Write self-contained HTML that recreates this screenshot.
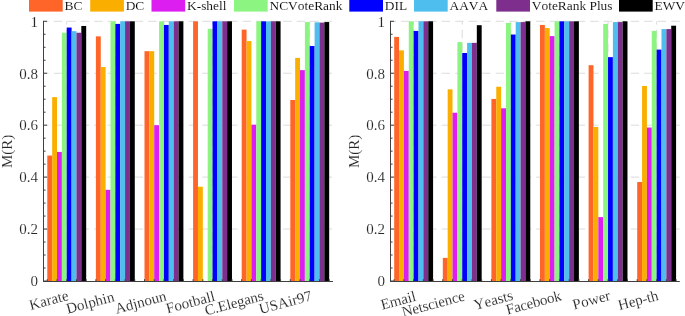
<!DOCTYPE html>
<html><head><meta charset="utf-8"><style>
html,body{margin:0;padding:0;background:#fff;width:685px;height:316px;overflow:hidden}
svg{display:block;will-change:transform}
text{font-family:"Liberation Serif",serif;fill:#262626;font-kerning:none;font-variant-ligatures:none;stroke:#fff;stroke-width:0.12px}
.tk{font-size:15px}
.lg{font-size:13.4px;fill:#000}
.lb{font-size:15px}
.xl{font-size:15px}
</style></head><body>
<svg width="685" height="316" viewBox="0 0 685 316">
<rect width="685" height="316" fill="#fff"/>
<rect x="29.00" y="0" width="33.7" height="11.6" fill="#FF6428"/>
<text x="64.50" y="9.6" class="lg">BC</text>
<rect x="90.20" y="0" width="33.7" height="11.6" fill="#FAAF00"/>
<text x="125.70" y="9.6" class="lg">DC</text>
<rect x="151.50" y="0" width="33.7" height="11.6" fill="#DC1EF0"/>
<text x="187.00" y="9.6" class="lg">K-shell</text>
<rect x="234.00" y="0" width="33.7" height="11.6" fill="#8CF582"/>
<text x="269.50" y="9.6" class="lg">NCVoteRank</text>
<rect x="349.30" y="0" width="33.7" height="11.6" fill="#0000FF"/>
<text x="384.80" y="9.6" class="lg">DIL</text>
<rect x="414.00" y="0" width="33.7" height="11.6" fill="#4DBEEE"/>
<text x="449.50" y="9.6" class="lg">AAVA</text>
<rect x="496.30" y="0" width="33.7" height="11.6" fill="#7E2F8E"/>
<text x="531.80" y="9.6" class="lg">VoteRank Plus</text>
<rect x="619.00" y="0" width="33.7" height="11.6" fill="#000000"/>
<text x="654.50" y="9.6" class="lg">EWV</text>
<line x1="44.00" y1="229.06" x2="333.00" y2="229.06" stroke="#dcdcdc" stroke-width="1" stroke-dasharray="8.5 5" stroke-dashoffset="3.85"/>
<line x1="44.00" y1="177.12" x2="333.00" y2="177.12" stroke="#dcdcdc" stroke-width="1" stroke-dasharray="8.5 5" stroke-dashoffset="3.85"/>
<line x1="44.00" y1="125.18" x2="333.00" y2="125.18" stroke="#dcdcdc" stroke-width="1" stroke-dasharray="8.5 5" stroke-dashoffset="3.85"/>
<line x1="44.00" y1="73.24" x2="333.00" y2="73.24" stroke="#dcdcdc" stroke-width="1" stroke-dasharray="8.5 5" stroke-dashoffset="3.85"/>
<line x1="44.00" y1="21.30" x2="333.00" y2="21.30" stroke="#dcdcdc" stroke-width="1" stroke-dasharray="8.5 5" stroke-dashoffset="3.85"/>
<line x1="66.74" y1="281.20" x2="66.74" y2="21.30" stroke="#dcdcdc" stroke-width="1" stroke-dasharray="8.5 5"/>
<line x1="115.34" y1="281.20" x2="115.34" y2="21.30" stroke="#dcdcdc" stroke-width="1" stroke-dasharray="8.5 5"/>
<line x1="163.94" y1="281.20" x2="163.94" y2="21.30" stroke="#dcdcdc" stroke-width="1" stroke-dasharray="8.5 5"/>
<line x1="212.54" y1="281.20" x2="212.54" y2="21.30" stroke="#dcdcdc" stroke-width="1" stroke-dasharray="8.5 5"/>
<line x1="261.14" y1="281.20" x2="261.14" y2="21.30" stroke="#dcdcdc" stroke-width="1" stroke-dasharray="8.5 5"/>
<line x1="309.74" y1="281.20" x2="309.74" y2="21.30" stroke="#dcdcdc" stroke-width="1" stroke-dasharray="8.5 5"/>
<rect x="47.30" y="155.56" width="4.86" height="125.44" fill="#FF6428"/>
<rect x="52.16" y="97.13" width="4.86" height="183.87" fill="#FAAF00"/>
<rect x="57.02" y="151.93" width="4.86" height="129.07" fill="#DC1EF0"/>
<rect x="61.88" y="32.73" width="4.86" height="248.27" fill="#8CF582"/>
<rect x="66.74" y="27.53" width="4.86" height="253.47" fill="#0000FF"/>
<rect x="71.60" y="31.17" width="4.86" height="249.83" fill="#4DBEEE"/>
<rect x="76.46" y="32.73" width="4.86" height="248.27" fill="#7E2F8E"/>
<rect x="81.32" y="25.97" width="4.86" height="255.03" fill="#000000"/>
<rect x="95.90" y="36.36" width="4.86" height="244.64" fill="#FF6428"/>
<rect x="100.76" y="67.01" width="4.86" height="213.99" fill="#FAAF00"/>
<rect x="105.62" y="189.85" width="4.86" height="91.15" fill="#DC1EF0"/>
<rect x="110.48" y="21.30" width="4.86" height="259.70" fill="#8CF582"/>
<rect x="115.34" y="23.90" width="4.86" height="257.10" fill="#0000FF"/>
<rect x="120.20" y="21.30" width="4.86" height="259.70" fill="#4DBEEE"/>
<rect x="125.06" y="21.30" width="4.86" height="259.70" fill="#7E2F8E"/>
<rect x="129.92" y="21.30" width="4.86" height="259.70" fill="#000000"/>
<rect x="144.50" y="51.17" width="4.86" height="229.83" fill="#FF6428"/>
<rect x="149.36" y="51.17" width="4.86" height="229.83" fill="#FAAF00"/>
<rect x="154.22" y="125.18" width="4.86" height="155.82" fill="#DC1EF0"/>
<rect x="159.08" y="21.30" width="4.86" height="259.70" fill="#8CF582"/>
<rect x="163.94" y="24.94" width="4.86" height="256.06" fill="#0000FF"/>
<rect x="168.80" y="21.30" width="4.86" height="259.70" fill="#4DBEEE"/>
<rect x="173.66" y="21.30" width="4.86" height="259.70" fill="#7E2F8E"/>
<rect x="178.52" y="21.30" width="4.86" height="259.70" fill="#000000"/>
<rect x="193.10" y="21.30" width="4.86" height="259.70" fill="#FF6428"/>
<rect x="197.96" y="186.73" width="4.86" height="94.27" fill="#FAAF00"/>
<rect x="207.68" y="28.83" width="4.86" height="252.17" fill="#8CF582"/>
<rect x="212.54" y="21.30" width="4.86" height="259.70" fill="#0000FF"/>
<rect x="217.40" y="21.30" width="4.86" height="259.70" fill="#4DBEEE"/>
<rect x="222.26" y="21.30" width="4.86" height="259.70" fill="#7E2F8E"/>
<rect x="227.12" y="21.30" width="4.86" height="259.70" fill="#000000"/>
<rect x="241.70" y="29.61" width="4.86" height="251.39" fill="#FF6428"/>
<rect x="246.56" y="41.04" width="4.86" height="239.96" fill="#FAAF00"/>
<rect x="251.42" y="124.66" width="4.86" height="156.34" fill="#DC1EF0"/>
<rect x="256.28" y="21.30" width="4.86" height="259.70" fill="#8CF582"/>
<rect x="261.14" y="21.30" width="4.86" height="259.70" fill="#0000FF"/>
<rect x="266.00" y="21.30" width="4.86" height="259.70" fill="#4DBEEE"/>
<rect x="270.86" y="21.30" width="4.86" height="259.70" fill="#7E2F8E"/>
<rect x="275.72" y="21.30" width="4.86" height="259.70" fill="#000000"/>
<rect x="290.30" y="99.99" width="4.86" height="181.01" fill="#FF6428"/>
<rect x="295.16" y="57.92" width="4.86" height="223.08" fill="#FAAF00"/>
<rect x="300.02" y="70.12" width="4.86" height="210.88" fill="#DC1EF0"/>
<rect x="304.88" y="22.08" width="4.86" height="258.92" fill="#8CF582"/>
<rect x="309.74" y="45.97" width="4.86" height="235.03" fill="#0000FF"/>
<rect x="314.60" y="22.34" width="4.86" height="258.66" fill="#4DBEEE"/>
<rect x="319.46" y="22.60" width="4.86" height="258.40" fill="#7E2F8E"/>
<rect x="324.32" y="22.08" width="4.86" height="258.92" fill="#000000"/>
<line x1="43.50" y1="20.80" x2="43.50" y2="282.00" stroke="#404040" stroke-width="1"/>
<line x1="43.00" y1="281.50" x2="333.00" y2="281.50" stroke="#404040" stroke-width="1"/>
<line x1="43.50" y1="281.00" x2="47.10" y2="281.00" stroke="#404040" stroke-width="1"/>
<line x1="43.50" y1="268.01" x2="45.60" y2="268.01" stroke="#404040" stroke-width="1"/>
<line x1="43.50" y1="255.03" x2="45.60" y2="255.03" stroke="#404040" stroke-width="1"/>
<line x1="43.50" y1="242.04" x2="45.60" y2="242.04" stroke="#404040" stroke-width="1"/>
<line x1="43.50" y1="229.06" x2="47.10" y2="229.06" stroke="#404040" stroke-width="1"/>
<line x1="43.50" y1="216.07" x2="45.60" y2="216.07" stroke="#404040" stroke-width="1"/>
<line x1="43.50" y1="203.09" x2="45.60" y2="203.09" stroke="#404040" stroke-width="1"/>
<line x1="43.50" y1="190.10" x2="45.60" y2="190.10" stroke="#404040" stroke-width="1"/>
<line x1="43.50" y1="177.12" x2="47.10" y2="177.12" stroke="#404040" stroke-width="1"/>
<line x1="43.50" y1="164.13" x2="45.60" y2="164.13" stroke="#404040" stroke-width="1"/>
<line x1="43.50" y1="151.15" x2="45.60" y2="151.15" stroke="#404040" stroke-width="1"/>
<line x1="43.50" y1="138.16" x2="45.60" y2="138.16" stroke="#404040" stroke-width="1"/>
<line x1="43.50" y1="125.18" x2="47.10" y2="125.18" stroke="#404040" stroke-width="1"/>
<line x1="43.50" y1="112.19" x2="45.60" y2="112.19" stroke="#404040" stroke-width="1"/>
<line x1="43.50" y1="99.21" x2="45.60" y2="99.21" stroke="#404040" stroke-width="1"/>
<line x1="43.50" y1="86.23" x2="45.60" y2="86.23" stroke="#404040" stroke-width="1"/>
<line x1="43.50" y1="73.24" x2="47.10" y2="73.24" stroke="#404040" stroke-width="1"/>
<line x1="43.50" y1="60.25" x2="45.60" y2="60.25" stroke="#404040" stroke-width="1"/>
<line x1="43.50" y1="47.27" x2="45.60" y2="47.27" stroke="#404040" stroke-width="1"/>
<line x1="43.50" y1="34.28" x2="45.60" y2="34.28" stroke="#404040" stroke-width="1"/>
<line x1="43.50" y1="21.30" x2="47.10" y2="21.30" stroke="#404040" stroke-width="1"/>
<line x1="47.30" y1="281.50" x2="47.30" y2="279.20" stroke="#404040" stroke-width="1"/>
<line x1="57.02" y1="281.50" x2="57.02" y2="279.20" stroke="#404040" stroke-width="1"/>
<line x1="66.74" y1="281.50" x2="66.74" y2="279.20" stroke="#404040" stroke-width="1"/>
<line x1="76.46" y1="281.50" x2="76.46" y2="279.20" stroke="#404040" stroke-width="1"/>
<line x1="86.18" y1="281.50" x2="86.18" y2="279.20" stroke="#404040" stroke-width="1"/>
<line x1="95.90" y1="281.50" x2="95.90" y2="279.20" stroke="#404040" stroke-width="1"/>
<line x1="105.62" y1="281.50" x2="105.62" y2="279.20" stroke="#404040" stroke-width="1"/>
<line x1="115.34" y1="281.50" x2="115.34" y2="279.20" stroke="#404040" stroke-width="1"/>
<line x1="125.06" y1="281.50" x2="125.06" y2="279.20" stroke="#404040" stroke-width="1"/>
<line x1="134.78" y1="281.50" x2="134.78" y2="279.20" stroke="#404040" stroke-width="1"/>
<line x1="144.50" y1="281.50" x2="144.50" y2="279.20" stroke="#404040" stroke-width="1"/>
<line x1="154.22" y1="281.50" x2="154.22" y2="279.20" stroke="#404040" stroke-width="1"/>
<line x1="163.94" y1="281.50" x2="163.94" y2="279.20" stroke="#404040" stroke-width="1"/>
<line x1="173.66" y1="281.50" x2="173.66" y2="279.20" stroke="#404040" stroke-width="1"/>
<line x1="183.38" y1="281.50" x2="183.38" y2="279.20" stroke="#404040" stroke-width="1"/>
<line x1="193.10" y1="281.50" x2="193.10" y2="279.20" stroke="#404040" stroke-width="1"/>
<line x1="202.82" y1="281.50" x2="202.82" y2="279.20" stroke="#404040" stroke-width="1"/>
<line x1="212.54" y1="281.50" x2="212.54" y2="279.20" stroke="#404040" stroke-width="1"/>
<line x1="222.26" y1="281.50" x2="222.26" y2="279.20" stroke="#404040" stroke-width="1"/>
<line x1="231.98" y1="281.50" x2="231.98" y2="279.20" stroke="#404040" stroke-width="1"/>
<line x1="241.70" y1="281.50" x2="241.70" y2="279.20" stroke="#404040" stroke-width="1"/>
<line x1="251.42" y1="281.50" x2="251.42" y2="279.20" stroke="#404040" stroke-width="1"/>
<line x1="261.14" y1="281.50" x2="261.14" y2="279.20" stroke="#404040" stroke-width="1"/>
<line x1="270.86" y1="281.50" x2="270.86" y2="279.20" stroke="#404040" stroke-width="1"/>
<line x1="280.58" y1="281.50" x2="280.58" y2="279.20" stroke="#404040" stroke-width="1"/>
<line x1="290.30" y1="281.50" x2="290.30" y2="279.20" stroke="#404040" stroke-width="1"/>
<line x1="300.02" y1="281.50" x2="300.02" y2="279.20" stroke="#404040" stroke-width="1"/>
<line x1="309.74" y1="281.50" x2="309.74" y2="279.20" stroke="#404040" stroke-width="1"/>
<line x1="319.46" y1="281.50" x2="319.46" y2="279.20" stroke="#404040" stroke-width="1"/>
<line x1="329.18" y1="281.50" x2="329.18" y2="279.20" stroke="#404040" stroke-width="1"/>
<text x="37.90" y="286.30" text-anchor="end" class="tk">0</text>
<text x="37.90" y="234.36" text-anchor="end" class="tk">0.2</text>
<text x="37.90" y="182.42" text-anchor="end" class="tk">0.4</text>
<text x="37.90" y="130.48" text-anchor="end" class="tk">0.6</text>
<text x="37.90" y="78.54" text-anchor="end" class="tk">0.8</text>
<text x="37.90" y="26.60" text-anchor="end" class="tk">1</text>
<text transform="translate(12.20,151.3) rotate(-90)" text-anchor="middle" class="lb">M(R)</text>
<text transform="translate(69.34,299.80) rotate(-15)" text-anchor="end" class="xl">Karate</text>
<text transform="translate(115.14,301.00) rotate(-15)" text-anchor="end" class="xl">Dolphin</text>
<text transform="translate(167.14,300.20) rotate(-15)" text-anchor="end" class="xl">Adjnoun</text>
<text transform="translate(215.84,300.50) rotate(-15)" text-anchor="end" class="xl">Football</text>
<text transform="translate(264.34,300.00) rotate(-15)" text-anchor="end" class="xl" textLength="60.07" lengthAdjust="spacing">C.Elegans</text>
<text transform="translate(312.74,300.00) rotate(-15)" text-anchor="end" class="xl">USAir97</text>
<line x1="391.00" y1="229.06" x2="679.80" y2="229.06" stroke="#dcdcdc" stroke-width="1" stroke-dasharray="8.5 5" stroke-dashoffset="3.35"/>
<line x1="391.00" y1="177.12" x2="679.80" y2="177.12" stroke="#dcdcdc" stroke-width="1" stroke-dasharray="8.5 5" stroke-dashoffset="3.35"/>
<line x1="391.00" y1="125.18" x2="679.80" y2="125.18" stroke="#dcdcdc" stroke-width="1" stroke-dasharray="8.5 5" stroke-dashoffset="3.35"/>
<line x1="391.00" y1="73.24" x2="679.80" y2="73.24" stroke="#dcdcdc" stroke-width="1" stroke-dasharray="8.5 5" stroke-dashoffset="3.35"/>
<line x1="391.00" y1="21.30" x2="679.80" y2="21.30" stroke="#dcdcdc" stroke-width="1" stroke-dasharray="8.5 5" stroke-dashoffset="3.35"/>
<line x1="413.64" y1="281.20" x2="413.64" y2="21.30" stroke="#dcdcdc" stroke-width="1" stroke-dasharray="8.5 5"/>
<line x1="462.24" y1="281.20" x2="462.24" y2="21.30" stroke="#dcdcdc" stroke-width="1" stroke-dasharray="8.5 5"/>
<line x1="510.84" y1="281.20" x2="510.84" y2="21.30" stroke="#dcdcdc" stroke-width="1" stroke-dasharray="8.5 5"/>
<line x1="559.44" y1="281.20" x2="559.44" y2="21.30" stroke="#dcdcdc" stroke-width="1" stroke-dasharray="8.5 5"/>
<line x1="608.04" y1="281.20" x2="608.04" y2="21.30" stroke="#dcdcdc" stroke-width="1" stroke-dasharray="8.5 5"/>
<line x1="656.64" y1="281.20" x2="656.64" y2="21.30" stroke="#dcdcdc" stroke-width="1" stroke-dasharray="8.5 5"/>
<rect x="394.20" y="36.88" width="4.86" height="244.12" fill="#FF6428"/>
<rect x="399.06" y="50.39" width="4.86" height="230.61" fill="#FAAF00"/>
<rect x="403.92" y="70.90" width="4.86" height="210.10" fill="#DC1EF0"/>
<rect x="408.78" y="21.30" width="4.86" height="259.70" fill="#8CF582"/>
<rect x="413.64" y="30.91" width="4.86" height="250.09" fill="#0000FF"/>
<rect x="418.50" y="21.30" width="4.86" height="259.70" fill="#4DBEEE"/>
<rect x="423.36" y="21.30" width="4.86" height="259.70" fill="#7E2F8E"/>
<rect x="428.22" y="21.30" width="4.86" height="259.70" fill="#000000"/>
<rect x="442.80" y="257.89" width="4.86" height="23.11" fill="#FF6428"/>
<rect x="447.66" y="89.34" width="4.86" height="191.66" fill="#FAAF00"/>
<rect x="452.52" y="112.71" width="4.86" height="168.29" fill="#DC1EF0"/>
<rect x="457.38" y="42.08" width="4.86" height="238.92" fill="#8CF582"/>
<rect x="462.24" y="52.98" width="4.86" height="228.02" fill="#0000FF"/>
<rect x="467.10" y="42.86" width="4.86" height="238.14" fill="#4DBEEE"/>
<rect x="471.96" y="42.86" width="4.86" height="238.14" fill="#7E2F8E"/>
<rect x="476.82" y="25.20" width="4.86" height="255.80" fill="#000000"/>
<rect x="491.40" y="98.95" width="4.86" height="182.05" fill="#FF6428"/>
<rect x="496.26" y="86.74" width="4.86" height="194.26" fill="#FAAF00"/>
<rect x="501.12" y="108.30" width="4.86" height="172.70" fill="#DC1EF0"/>
<rect x="505.98" y="22.86" width="4.86" height="258.14" fill="#8CF582"/>
<rect x="510.84" y="34.54" width="4.86" height="246.46" fill="#0000FF"/>
<rect x="515.70" y="22.08" width="4.86" height="258.92" fill="#4DBEEE"/>
<rect x="520.56" y="22.08" width="4.86" height="258.92" fill="#7E2F8E"/>
<rect x="525.42" y="21.30" width="4.86" height="259.70" fill="#000000"/>
<rect x="540.00" y="24.94" width="4.86" height="256.06" fill="#FF6428"/>
<rect x="544.86" y="28.05" width="4.86" height="252.95" fill="#FAAF00"/>
<rect x="549.72" y="36.10" width="4.86" height="244.90" fill="#DC1EF0"/>
<rect x="554.58" y="21.30" width="4.86" height="259.70" fill="#8CF582"/>
<rect x="559.44" y="21.30" width="4.86" height="259.70" fill="#0000FF"/>
<rect x="564.30" y="21.30" width="4.86" height="259.70" fill="#4DBEEE"/>
<rect x="569.16" y="21.30" width="4.86" height="259.70" fill="#7E2F8E"/>
<rect x="574.02" y="21.30" width="4.86" height="259.70" fill="#000000"/>
<rect x="588.60" y="65.19" width="4.86" height="215.81" fill="#FF6428"/>
<rect x="593.46" y="127.00" width="4.86" height="154.00" fill="#FAAF00"/>
<rect x="598.32" y="217.11" width="4.86" height="63.89" fill="#DC1EF0"/>
<rect x="603.18" y="23.90" width="4.86" height="257.10" fill="#8CF582"/>
<rect x="608.04" y="57.14" width="4.86" height="223.86" fill="#0000FF"/>
<rect x="612.90" y="22.08" width="4.86" height="258.92" fill="#4DBEEE"/>
<rect x="617.76" y="22.08" width="4.86" height="258.92" fill="#7E2F8E"/>
<rect x="622.62" y="21.30" width="4.86" height="259.70" fill="#000000"/>
<rect x="637.20" y="182.05" width="4.86" height="98.95" fill="#FF6428"/>
<rect x="642.06" y="85.97" width="4.86" height="195.03" fill="#FAAF00"/>
<rect x="646.92" y="127.52" width="4.86" height="153.48" fill="#DC1EF0"/>
<rect x="651.78" y="30.91" width="4.86" height="250.09" fill="#8CF582"/>
<rect x="656.64" y="49.61" width="4.86" height="231.39" fill="#0000FF"/>
<rect x="661.50" y="29.09" width="4.86" height="251.91" fill="#4DBEEE"/>
<rect x="666.36" y="29.09" width="4.86" height="251.91" fill="#7E2F8E"/>
<rect x="671.22" y="25.71" width="4.86" height="255.29" fill="#000000"/>
<line x1="390.50" y1="20.80" x2="390.50" y2="282.00" stroke="#404040" stroke-width="1"/>
<line x1="390.00" y1="281.50" x2="679.80" y2="281.50" stroke="#404040" stroke-width="1"/>
<line x1="390.50" y1="281.00" x2="394.10" y2="281.00" stroke="#404040" stroke-width="1"/>
<line x1="390.50" y1="268.01" x2="392.60" y2="268.01" stroke="#404040" stroke-width="1"/>
<line x1="390.50" y1="255.03" x2="392.60" y2="255.03" stroke="#404040" stroke-width="1"/>
<line x1="390.50" y1="242.04" x2="392.60" y2="242.04" stroke="#404040" stroke-width="1"/>
<line x1="390.50" y1="229.06" x2="394.10" y2="229.06" stroke="#404040" stroke-width="1"/>
<line x1="390.50" y1="216.07" x2="392.60" y2="216.07" stroke="#404040" stroke-width="1"/>
<line x1="390.50" y1="203.09" x2="392.60" y2="203.09" stroke="#404040" stroke-width="1"/>
<line x1="390.50" y1="190.10" x2="392.60" y2="190.10" stroke="#404040" stroke-width="1"/>
<line x1="390.50" y1="177.12" x2="394.10" y2="177.12" stroke="#404040" stroke-width="1"/>
<line x1="390.50" y1="164.13" x2="392.60" y2="164.13" stroke="#404040" stroke-width="1"/>
<line x1="390.50" y1="151.15" x2="392.60" y2="151.15" stroke="#404040" stroke-width="1"/>
<line x1="390.50" y1="138.16" x2="392.60" y2="138.16" stroke="#404040" stroke-width="1"/>
<line x1="390.50" y1="125.18" x2="394.10" y2="125.18" stroke="#404040" stroke-width="1"/>
<line x1="390.50" y1="112.19" x2="392.60" y2="112.19" stroke="#404040" stroke-width="1"/>
<line x1="390.50" y1="99.21" x2="392.60" y2="99.21" stroke="#404040" stroke-width="1"/>
<line x1="390.50" y1="86.23" x2="392.60" y2="86.23" stroke="#404040" stroke-width="1"/>
<line x1="390.50" y1="73.24" x2="394.10" y2="73.24" stroke="#404040" stroke-width="1"/>
<line x1="390.50" y1="60.25" x2="392.60" y2="60.25" stroke="#404040" stroke-width="1"/>
<line x1="390.50" y1="47.27" x2="392.60" y2="47.27" stroke="#404040" stroke-width="1"/>
<line x1="390.50" y1="34.28" x2="392.60" y2="34.28" stroke="#404040" stroke-width="1"/>
<line x1="390.50" y1="21.30" x2="394.10" y2="21.30" stroke="#404040" stroke-width="1"/>
<line x1="394.20" y1="281.50" x2="394.20" y2="279.20" stroke="#404040" stroke-width="1"/>
<line x1="403.92" y1="281.50" x2="403.92" y2="279.20" stroke="#404040" stroke-width="1"/>
<line x1="413.64" y1="281.50" x2="413.64" y2="279.20" stroke="#404040" stroke-width="1"/>
<line x1="423.36" y1="281.50" x2="423.36" y2="279.20" stroke="#404040" stroke-width="1"/>
<line x1="433.08" y1="281.50" x2="433.08" y2="279.20" stroke="#404040" stroke-width="1"/>
<line x1="442.80" y1="281.50" x2="442.80" y2="279.20" stroke="#404040" stroke-width="1"/>
<line x1="452.52" y1="281.50" x2="452.52" y2="279.20" stroke="#404040" stroke-width="1"/>
<line x1="462.24" y1="281.50" x2="462.24" y2="279.20" stroke="#404040" stroke-width="1"/>
<line x1="471.96" y1="281.50" x2="471.96" y2="279.20" stroke="#404040" stroke-width="1"/>
<line x1="481.68" y1="281.50" x2="481.68" y2="279.20" stroke="#404040" stroke-width="1"/>
<line x1="491.40" y1="281.50" x2="491.40" y2="279.20" stroke="#404040" stroke-width="1"/>
<line x1="501.12" y1="281.50" x2="501.12" y2="279.20" stroke="#404040" stroke-width="1"/>
<line x1="510.84" y1="281.50" x2="510.84" y2="279.20" stroke="#404040" stroke-width="1"/>
<line x1="520.56" y1="281.50" x2="520.56" y2="279.20" stroke="#404040" stroke-width="1"/>
<line x1="530.28" y1="281.50" x2="530.28" y2="279.20" stroke="#404040" stroke-width="1"/>
<line x1="540.00" y1="281.50" x2="540.00" y2="279.20" stroke="#404040" stroke-width="1"/>
<line x1="549.72" y1="281.50" x2="549.72" y2="279.20" stroke="#404040" stroke-width="1"/>
<line x1="559.44" y1="281.50" x2="559.44" y2="279.20" stroke="#404040" stroke-width="1"/>
<line x1="569.16" y1="281.50" x2="569.16" y2="279.20" stroke="#404040" stroke-width="1"/>
<line x1="578.88" y1="281.50" x2="578.88" y2="279.20" stroke="#404040" stroke-width="1"/>
<line x1="588.60" y1="281.50" x2="588.60" y2="279.20" stroke="#404040" stroke-width="1"/>
<line x1="598.32" y1="281.50" x2="598.32" y2="279.20" stroke="#404040" stroke-width="1"/>
<line x1="608.04" y1="281.50" x2="608.04" y2="279.20" stroke="#404040" stroke-width="1"/>
<line x1="617.76" y1="281.50" x2="617.76" y2="279.20" stroke="#404040" stroke-width="1"/>
<line x1="627.48" y1="281.50" x2="627.48" y2="279.20" stroke="#404040" stroke-width="1"/>
<line x1="637.20" y1="281.50" x2="637.20" y2="279.20" stroke="#404040" stroke-width="1"/>
<line x1="646.92" y1="281.50" x2="646.92" y2="279.20" stroke="#404040" stroke-width="1"/>
<line x1="656.64" y1="281.50" x2="656.64" y2="279.20" stroke="#404040" stroke-width="1"/>
<line x1="666.36" y1="281.50" x2="666.36" y2="279.20" stroke="#404040" stroke-width="1"/>
<line x1="676.08" y1="281.50" x2="676.08" y2="279.20" stroke="#404040" stroke-width="1"/>
<text x="384.90" y="286.30" text-anchor="end" class="tk">0</text>
<text x="384.90" y="234.36" text-anchor="end" class="tk">0.2</text>
<text x="384.90" y="182.42" text-anchor="end" class="tk">0.4</text>
<text x="384.90" y="130.48" text-anchor="end" class="tk">0.6</text>
<text x="384.90" y="78.54" text-anchor="end" class="tk">0.8</text>
<text x="384.90" y="26.60" text-anchor="end" class="tk">1</text>
<text transform="translate(358.50,151.3) rotate(-90)" text-anchor="middle" class="lb">M(R)</text>
<text transform="translate(416.84,300.50) rotate(-15)" text-anchor="end" class="xl">Email</text>
<text transform="translate(465.64,300.20) rotate(-15)" text-anchor="end" class="xl" textLength="64.70" lengthAdjust="spacing">Netscience</text>
<text transform="translate(513.94,299.60) rotate(-15)" text-anchor="end" class="xl">Yeasts</text>
<text transform="translate(562.24,300.00) rotate(-15)" text-anchor="end" class="xl" textLength="56.73" lengthAdjust="spacing">Facebook</text>
<text transform="translate(611.14,299.80) rotate(-15)" text-anchor="end" class="xl">Power</text>
<text transform="translate(659.24,299.70) rotate(-15)" text-anchor="end" class="xl" textLength="41.03" lengthAdjust="spacing">Hep-th</text>
</svg>
</body></html>
